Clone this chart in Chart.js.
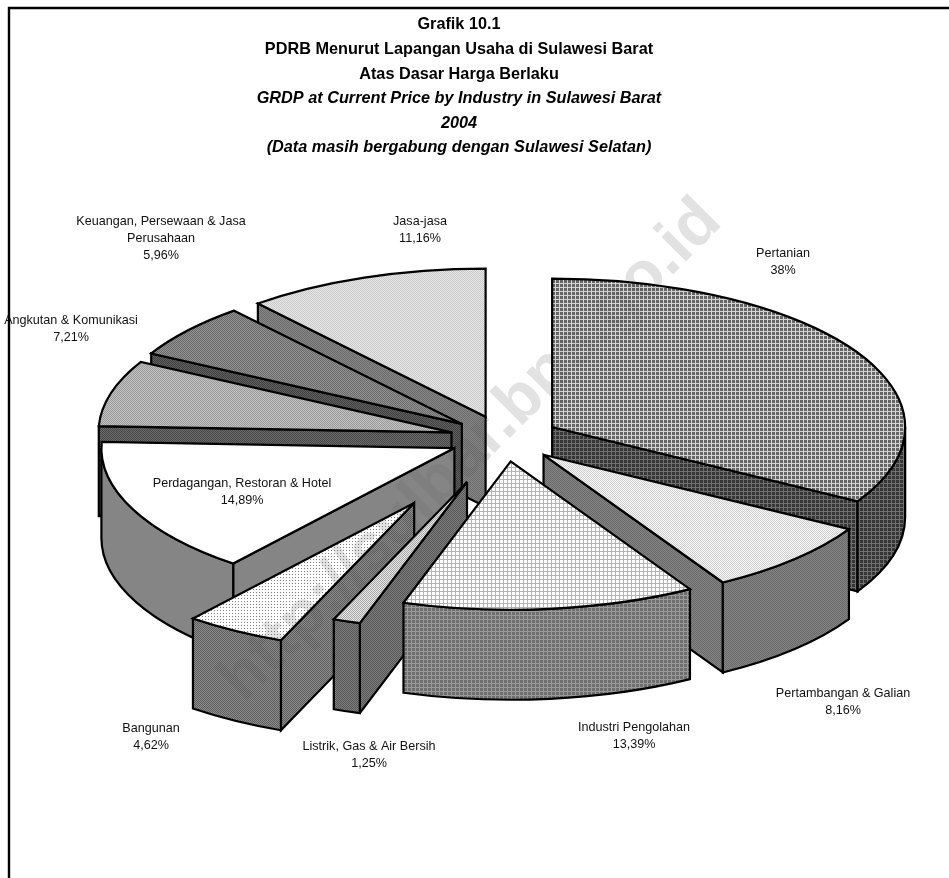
<!DOCTYPE html>
<html>
<head>
<meta charset="utf-8">
<style>
html,body{margin:0;padding:0;background:#fff;}
#wrap{position:relative;width:949px;height:878px;overflow:hidden;}
canvas{display:block;}
</style>
<script src="https://cdn.jsdelivr.net/npm/chart.js@4"></script>
</head>
<body>
<div id="wrap"><canvas id="c" width="949" height="878"></canvas></div>
<script>
const categories = ["Pertanian","Pertambangan & Galian","Industri Pengolahan","Listrik, Gas & Air Bersih","Bangunan","Perdagangan, Restoran & Hotel","Angkutan & Komunikasi","Keuangan, Persewaan & Jasa Perusahaan","Jasa-jasa"];
const sliceShares = [33.36,8.16,13.39,1.25,4.62,14.89,7.21,5.96,11.16];
const printedValues = ["38%","8,16%","13,39%","1,25%","4,62%","14,89%","7,21%","5,96%","11,16%"];
const titleLines = ["Grafik 10.1","PDRB Menurut Lapangan Usaha di Sulawesi Barat","Atas Dasar Harga Berlaku"];
const subtitleLines = ["GRDP at Current Price by Industry in Sulawesi Barat","2004","(Data masih bergabung dengan Sulawesi Selatan)"];
const watermarkText = "http://sulbar.bps.go.id";

// layout / style (not data)
const FONT = '"Liberation Sans", Arial, sans-serif';
const PIE = {cx:504.5, cy:438.5, r:353, tilt:0.42, depth:90};
const explode = [55,55,55,110,178,55,55,55,55];
const drawOrder = [8,7,6,5,0,1,4,3,2];
const labelBreaks = {7:["Keuangan, Persewaan & Jasa","Perusahaan"]};
const labelPos = [[783,254],[843,694],[634,728],[369,747],[151,729],[242,484],[71,321],[161,222],[420,222]];

function pat(w,h,bg,fg,cells){
  const o=document.createElement('canvas');o.width=w;o.height=h;
  const x=o.getContext('2d');x.fillStyle=bg;x.fillRect(0,0,w,h);x.fillStyle=fg;
  cells.forEach(c=>x.fillRect(c[0],c[1],c[2]||1,c[3]||1));
  return x.createPattern(o,'repeat');
}
const grid4=[[3,0,1,4],[0,3,4,1]];
const dots2=[[0,0],[1,1]];
const T=PIE.tilt;
const topFill=[
  pat(4,4,'#666666','#d4d4d4',grid4),
  pat(2,2,'#f6f6f6','#cfcfcf',dots2),
  pat(4,4,'#ffffff','#b4b4b4',grid4),
  pat(2,2,'#e6e6e6','#a8a8a8',dots2),
  pat(3,3,'#ffffff','#808080',[[1,1]]),
  '#ffffff',
  pat(2,2,'#c2c2c2','#9a9a9a',dots2),
  pat(2,2,'#929292','#6a6a6a',dots2),
  pat(2,2,'#e6e6e6','#cacaca',dots2)
];
const wallFill=[
  pat(4,4,'#363636','#707070',grid4),
  pat(2,2,'#848484','#6a6a6a',dots2),
  pat(4,4,'#6e6e6e','#9a9a9a',grid4),
  pat(2,2,'#7c7c7c','#585858',dots2),
  pat(2,2,'#8c8c8c','#5e5e5e',dots2),
  '#858585',
  pat(2,2,'#6a6a6a','#484848',dots2),
  pat(2,2,'#606060','#404040',dots2),
  pat(2,2,'#868686','#6c6c6c',dots2)
];

function drawSlice(ctx,arc,i){
  const {startAngle:a0,endAngle:a1}=arc.getProps(['startAngle','endAngle']);
  const mid=(a0+a1)/2, R=arc.outerRadius, Ry=R*T, D=PIE.depth;
  const ax=PIE.cx+explode[i]*Math.cos(mid), ay=PIE.cy+T*explode[i]*Math.sin(mid);
  const px=a=>ax+R*Math.cos(a), py=a=>ay+Ry*Math.sin(a);
  ctx.save();
  ctx.lineWidth=2.2;ctx.strokeStyle='#000';ctx.lineJoin='miter';ctx.miterLimit=3;
  ctx.fillStyle=wallFill[i];
  const wall=a=>{
    ctx.beginPath();ctx.moveTo(ax,ay);ctx.lineTo(px(a),py(a));ctx.lineTo(px(a),py(a)+D);ctx.lineTo(ax,ay+D);ctx.closePath();
    ctx.fill();ctx.stroke();
  };
  // only walls that face the viewer
  if(Math.cos(a0)<-1e-6) wall(a0);
  if(Math.cos(a1)>1e-6) wall(a1);
  const b0=Math.max(a0,0), b1=Math.min(a1,Math.PI);
  if(b1>b0){
    ctx.beginPath();
    ctx.ellipse(ax,ay,R,Ry,0,b0,b1);
    ctx.ellipse(ax,ay+D,R,Ry,0,b1,b0,true);
    ctx.closePath();ctx.fill();ctx.stroke();
  }
  // top face, drawn by the library's arc element on a squashed plane
  const e=ax-arc.x, f=ay-T*arc.y;
  const fill=topFill[i];
  if(fill.setTransform) fill.setTransform(new DOMMatrix().scale(1,1/T).translate(-e,-f));
  ctx.save();
  ctx.translate(e,f);ctx.scale(1,T);
  arc.draw(ctx);
  ctx.restore();
  ctx.beginPath();ctx.moveTo(ax,ay);ctx.ellipse(ax,ay,R,Ry,0,a0,a1);ctx.closePath();ctx.stroke();
  ctx.restore();
}

const pie3d={
  id:'pie3d',
  beforeDatasetDraw(chart,args){
    const ctx=chart.ctx;
    drawOrder.forEach(i=>drawSlice(ctx,args.meta.data[i],i));
    return false;
  },
  afterDraw(chart){
    const ctx=chart.ctx;
    ctx.save();
    // watermark: pale on white, barely there on the dark fills
    ctx.save();
    ctx.translate(471,451);ctx.rotate(-Math.PI/4);
    ctx.font='bold 65px '+FONT;ctx.textAlign='center';ctx.textBaseline='middle';
    ctx.globalCompositeOperation='multiply';ctx.fillStyle='#f3f3f3';
    ctx.fillText(watermarkText,0,0);
    ctx.globalCompositeOperation='darken';ctx.fillStyle='#e2e2e2';
    ctx.fillText(watermarkText,0,0);
    ctx.restore();
    // labels
    ctx.font='12.6px '+FONT;ctx.fillStyle='#111';ctx.textAlign='center';ctx.textBaseline='middle';
    categories.forEach((name,i)=>{
      const lines=(labelBreaks[i]||[name]).concat(printedValues[i]);
      lines.forEach((l,k)=>ctx.fillText(l,labelPos[i][0],labelPos[i][1]+k*17));
    });
    // frame: top and left edges only
    ctx.strokeStyle='#000';ctx.lineWidth=2.4;
    ctx.beginPath();ctx.moveTo(9,878);ctx.lineTo(9,8);ctx.lineTo(949,8);ctx.stroke();
    ctx.restore();
  }
};

new Chart(document.getElementById('c'),{
  type:'pie',
  data:{labels:categories,datasets:[{data:sliceShares,backgroundColor:topFill,borderWidth:0,radius:PIE.r}]},
  plugins:[pie3d],
  options:{
    responsive:false,animation:false,events:[],
    layout:{padding:{left:9,right:40,top:0,bottom:0}},
    plugins:{
      legend:{display:false},tooltip:{enabled:false},
      title:{display:true,text:titleLines,color:'#000',padding:{top:12.7,bottom:0},font:{family:FONT,size:16.25,weight:'bold',lineHeight:'24.6px'}},
      subtitle:{display:true,text:subtitleLines,color:'#000',padding:{top:0,bottom:0},font:{family:FONT,size:16.25,weight:'bold',style:'italic',lineHeight:'24.6px'}}
    }
  }
});
</script>
</body>
</html>
